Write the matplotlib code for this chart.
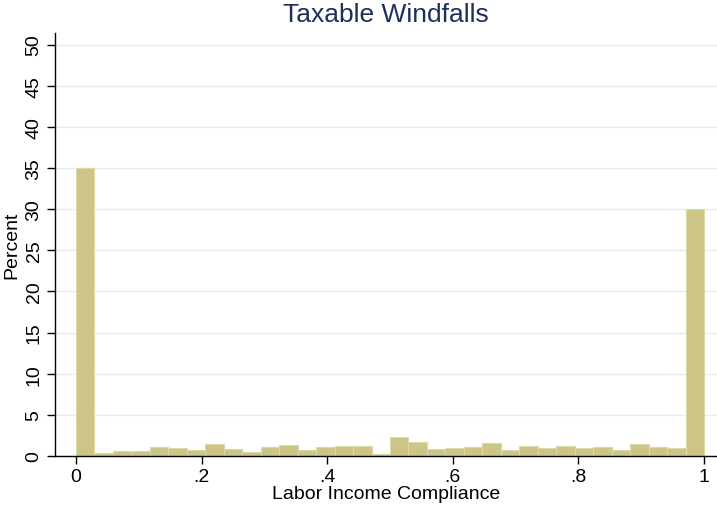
import matplotlib
matplotlib.use("Agg")
import matplotlib.pyplot as plt
import numpy as np

# Histogram: 34 bins over [0, 1], heights in percent
bin_edges_min = 0.0
bin_edges_max = 1.0
n_bins = 34
percent = [35.0, 0.37, 0.6, 0.6, 1.1, 0.98, 0.73, 1.46, 0.9, 0.53,
           1.1, 1.34, 0.73, 1.14, 1.26, 1.26, 0.24, 2.3, 1.7, 0.8,
           0.98, 1.1, 1.63, 0.73, 1.18, 0.98, 1.18, 0.98, 1.06, 0.77,
           1.5, 1.06, 0.98, 30.0]
x_ticks = [0, 0.2, 0.4, 0.6, 0.8, 1.0]
x_ticklabels = ["0", ".2", ".4", ".6", ".8", "1"]
y_ticks = [0, 5, 10, 15, 20, 25, 30, 35, 40, 45, 50]
title = "Taxable Windfalls"
xlabel = "Labor Income Compliance"
ylabel = "Percent"

plt.rcParams['font.family'] = ['Liberation Sans', 'DejaVu Sans']

fig = plt.figure(figsize=(7.17, 5.06), dpi=100)
ax = fig.add_axes([55/717, 49/506, 662/717, 423/506])

edges = np.linspace(bin_edges_min, bin_edges_max, n_bins + 1)
width = edges[1] - edges[0]
ax.bar(edges[:-1], percent, width=width, align='edge',
       color='#cdc588', edgecolor='#ddd8a8', linewidth=0.8, zorder=2)

ax.set_xlim(-0.0334, 1.0207)
ax.set_ylim(0, 51.4)
ax.set_yticks(y_ticks)
ax.set_yticklabels([str(v) for v in y_ticks], rotation=90, va='center', fontsize=14)
ax.set_xticks(x_ticks)
ax.set_xticklabels(x_ticklabels, fontsize=14)
ax.yaxis.grid(True, color='#e4ecf0', linewidth=1.0, zorder=0)
ax.set_axisbelow(True)

for s in ['top', 'right']:
    ax.spines[s].set_visible(False)
for s in ['left', 'bottom']:
    ax.spines[s].set_linewidth(1.0)
    ax.spines[s].set_color('black')
ax.tick_params(axis='both', length=6, width=1.0, color='black', labelcolor='black')
ax.tick_params(axis='x', pad=3)
ax.tick_params(axis='y', pad=3)

ax.set_xlabel(xlabel, fontsize=14)
ax.set_ylabel(ylabel, fontsize=14)
ax.xaxis.set_label_coords(0.5 + (386 - 386) / 662, (457 - 495) / 423)
ax.yaxis.set_label_coords((12 - 55) / 662, 0.5)
ax.xaxis.label.set_va('center')
ax.yaxis.label.set_va('center')
fig.text(386/717, 1 - 15/506, title, ha='center', va='center', fontsize=19, color='#1e2f5a')

fig.savefig("out.png", dpi=100, facecolor='white')
